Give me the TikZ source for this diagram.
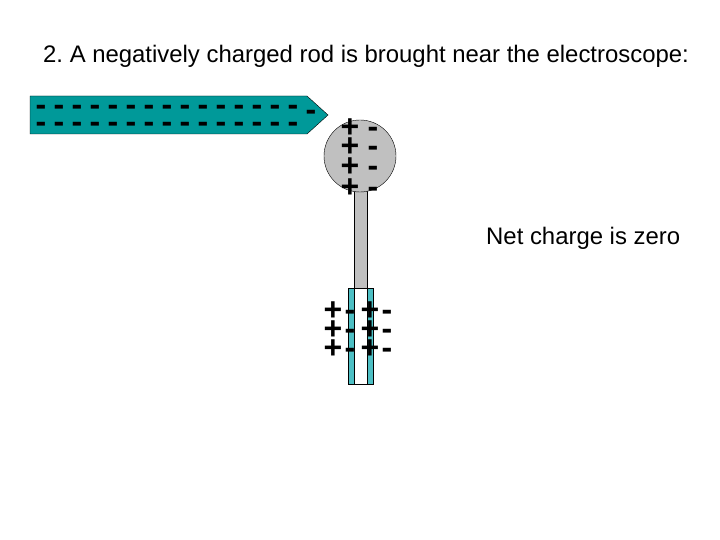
\documentclass[tikz,border=0pt]{standalone}
\usepackage{fontspec}
\setmainfont{Liberation Sans}
\frenchspacing
\begin{document}
\begin{tikzpicture}[x=1pt,y=-1pt,
  chg/.style={font=\fontsize{32}{32}\selectfont\bfseries,inner sep=0pt,anchor=base},
  txt/.style={font=\fontsize{23.9}{26}\selectfont,inner sep=0pt,anchor=west}]
\useasboundingbox (0,0) rectangle (720,540);
\definecolor{rodc}{HTML}{009999}
\definecolor{leafc}{HTML}{4DBFC4}
\definecolor{ballc}{HTML}{C0C0C0}
\node[txt] (title) at (43,56) {2. A negatively charged rod is brought near the electroscope:};
\node[txt] (net) at (486,238) {Net charge is zero};
% rod
\draw[fill=rodc] (30,96) -- (307,96) -- (328,115) -- (307,134) -- (30,134) -- cycle;
\foreach \i in {0,...,14}{
  \node[chg] at ({41+18*\i},{105+11}) {-};
  \node[chg] at ({41+18*\i},{122+11}) {-};
}
\node[chg] at (311,{110+11}) {-};
% stem and ball
\draw[fill=ballc] (354,185) rectangle (367,288);
\draw[fill=ballc] (360,156) circle (36);
\draw[fill=white] (348,288) rectangle (373,384);
\draw[fill=leafc] (348,288) rectangle (354,384);
\draw[fill=leafc] (367,288) rectangle (373,384);
\foreach \y in {127,146,166,186}{
  \node[chg] at (350,\y+11) {+};
  \node[chg] at (373,\y+11) {-};
}
\foreach \y in {309,328,347}{
  \node[chg] at (333,\y+11) {+};
  \node[chg] at (350,\y+11) {-};
  \node[chg] at (370,\y+11) {+};
  \node[chg] at (387,\y+11) {-};
}
\end{tikzpicture}
\end{document}
